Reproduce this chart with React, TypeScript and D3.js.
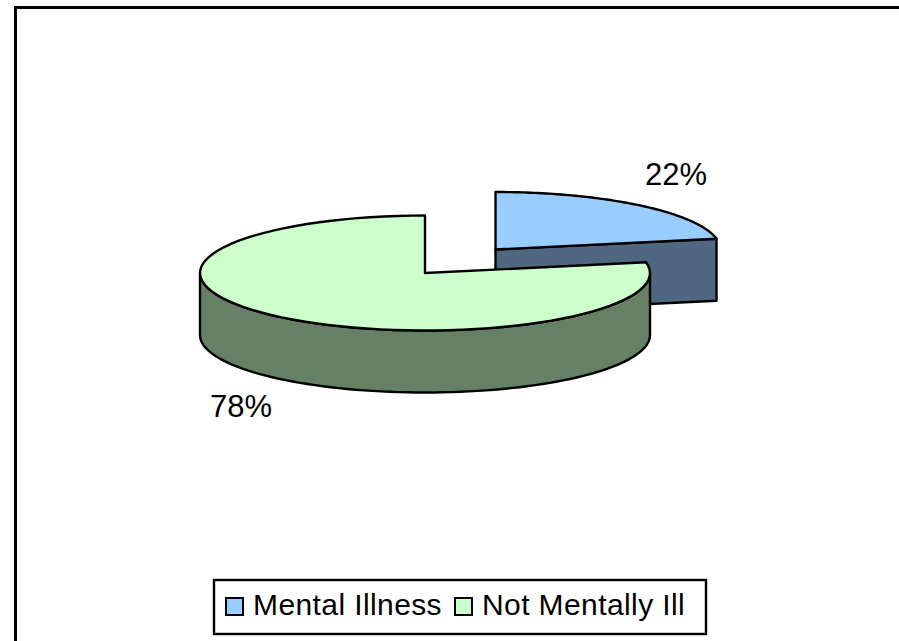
import React from "react";
import * as d3 from "d3";

const categories = ["Mental Illness", "Not Mentally Ill"];
const values = [22, 78];
const valueLabels = ["22%", "78%"];
const topColors = ["#99CCFF", "#CCFFCC"];
const wallColors = ["#4F6780", "#668066"];

const W = 899;
const H = 641;
const rx = 225;
const ry = 57.5;
const depth = 62;
const centers = [
  { x: 495.5, y: 249.5 },
  { x: 425, y: 273 },
];

const xScale = d3.scaleLinear().domain([-1, 1]).range([-rx, rx]);
const yScale = d3.scaleLinear().domain([-1, 1]).range([ry, -ry]);
const arcs = d3.pie<number>().sort(null)(values);
const line = d3.line<[number, number]>();

const rim = (c: { x: number; y: number }, a0: number, a1: number, dy = 0): [number, number][] =>
  d3.range(0, 81).map((i) => {
    const a = a0 + ((a1 - a0) * i) / 80;
    return [c.x + xScale(Math.sin(a)), c.y + yScale(Math.cos(a)) + dy] as [number, number];
  });

const stroke = { stroke: "#000", strokeWidth: 2.4, strokeLinejoin: "round" as const };

export default function App() {
  const blue = arcs[0];
  const green = arcs[1];
  const cb = centers[0];
  const cg = centers[1];
  const blueRim = rim(cb, blue.startAngle, blue.endAngle);
  const blueEnd = blueRim[blueRim.length - 1];
  const blueWall: [number, number][] = [
    [cb.x, cb.y],
    blueEnd,
    [blueEnd[0], blueEnd[1] + depth],
    [cb.x, cb.y + depth],
  ];
  const greenTop = rim(cg, green.startAngle, green.endAngle);
  // the visible outer wall runs along the front half of the ellipse
  const frontTop = rim(cg, Math.PI / 2, Math.PI * 1.5);
  const frontBottom = rim(cg, Math.PI / 2, Math.PI * 1.5, depth).reverse();
  return (
    <svg width={W} height={H} style={{ position: "absolute", left: 0, top: 0 }}>
      <rect width={W} height={H} fill="#fff" />
      <path d={`M15.5,${H}V7.5H${W}`} fill="none" stroke="#000" strokeWidth={3} />

      <path d={line(blueWall)! + "Z"} fill={wallColors[0]} {...stroke} />
      <path d={line([[cb.x, cb.y], ...blueRim])! + "Z"} fill={topColors[0]} {...stroke} />

      <path d={line([...frontTop, ...frontBottom])! + "Z"} fill={wallColors[1]} {...stroke} />
      <path d={line([[cg.x, cg.y], ...greenTop])! + "Z"} fill={topColors[1]} {...stroke} />

      <g fontFamily="'Liberation Sans', Arial, sans-serif" fontSize={31} fill="#000">
        <text x={645} y={185}>{valueLabels[0]}</text>
        <text x={210} y={417}>{valueLabels[1]}</text>
      </g>

      <rect x={214} y={580} width={492} height={54} fill="#fff" stroke="#000" strokeWidth={2.4} />
      <g fontFamily="'Liberation Sans', Arial, sans-serif" fontSize={30} fill="#000">
        {categories.map((c, i) => {
          const sx = i === 0 ? 226 : 455;
          return (
            <g key={c}>
              <rect x={sx} y={598} width={17} height={17} fill={topColors[i]} stroke="#000" strokeWidth={2} />
              <text x={sx + 27} y={615} letterSpacing={0.4}>{c}</text>
            </g>
          );
        })}
      </g>
    </svg>
  );
}
